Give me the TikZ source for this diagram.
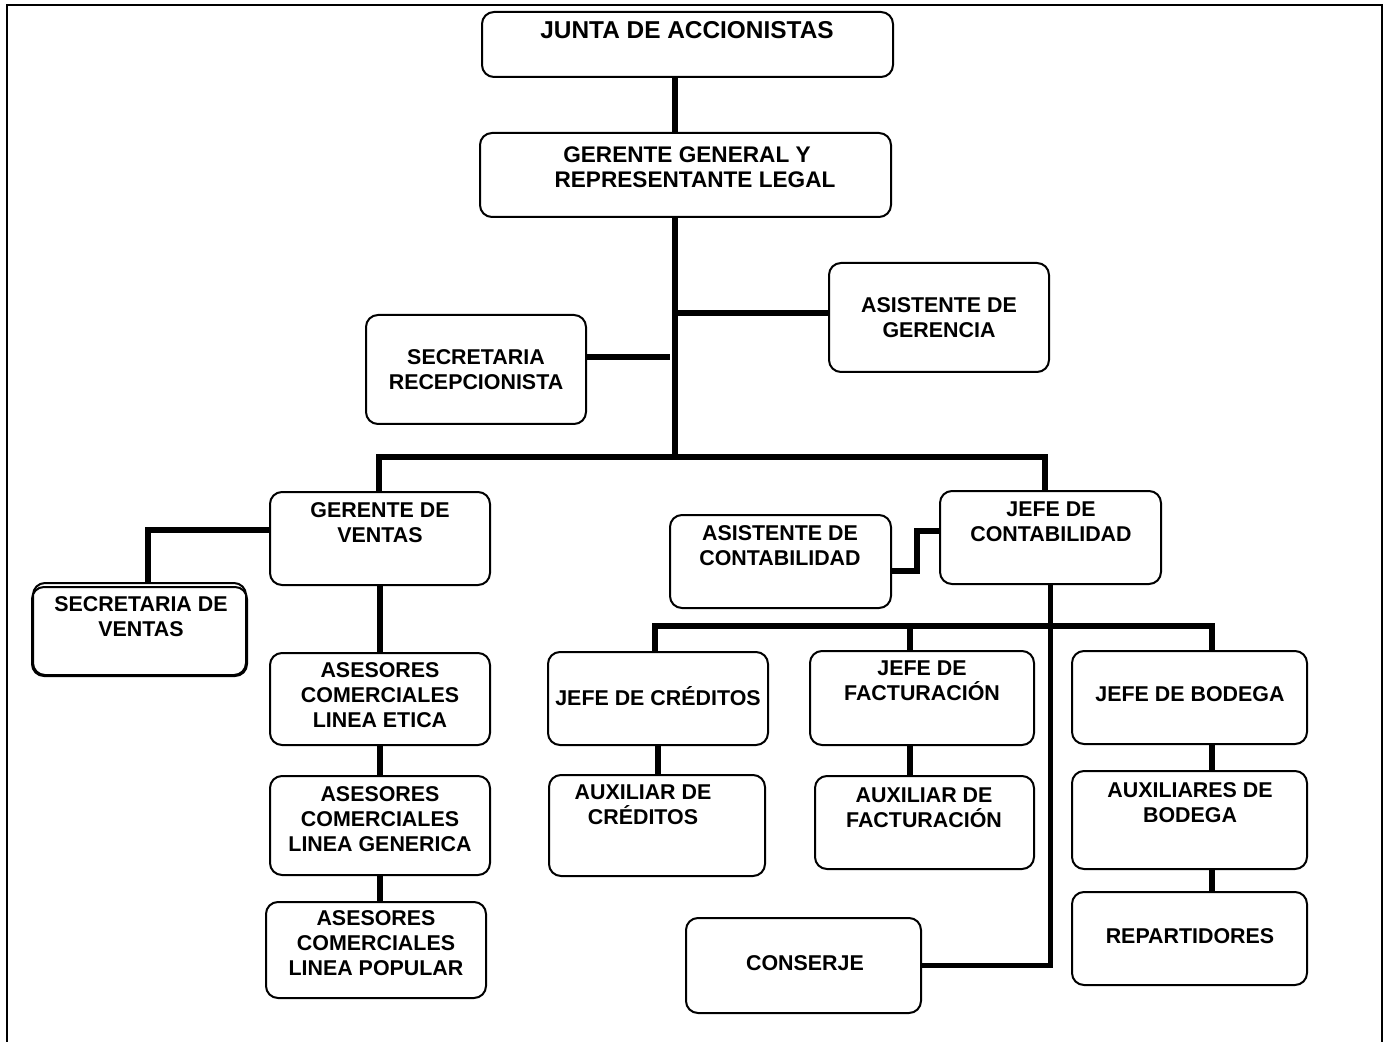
\documentclass[tikz,border=0pt]{standalone}
\usepackage{fontspec}
\setmainfont{Liberation Sans}
\usepackage{tikz}
\usetikzlibrary{positioning,fit}

\begin{document}
\begin{tikzpicture}[x=0.5pt,y=-0.5pt,
  orgbox/.style={draw,line width=1pt,rounded corners=6pt,inner sep=0pt},
  orgtxt/.style={font=\bfseries\fontsize{10.7}{12.6}\selectfont,align=center,anchor=north,inner sep=0pt},
  toptxt/.style={orgtxt,font=\bfseries\fontsize{12.2}{12.6}\selectfont},
  midtxt/.style={orgtxt,font=\bfseries\fontsize{11.3}{12.6}\selectfont},
  link/.style={line width=2.7pt}]
  \useasboundingbox (0,0) rectangle (1390,1042);
  \draw[line width=1.3pt] (7,1042) |- (1382,5) -- (1382,1042);
  % boxes
  \node[orgbox,fit={(482,12) (893,77)}] (junta) {};
  \node[orgbox,fit={(480,133) (891,217)}] (gerG) {};
  \node[orgbox,fit={(829,263) (1049,372)}] (asisG) {};
  \node[orgbox,fit={(366,315) (586,424)}] (secR) {};
  \node[orgbox,fit={(270,492) (490,585)}] (gerV) {};
  \node[orgbox,fit={(33,583) (246,675)}] (secVb) {};
  \node[orgbox,fit={(32,587) (247,676)}] (secV) {};
  \node[orgbox,fit={(270,653) (490,745)}] (aseE) {};
  \node[orgbox,fit={(270,776) (490,875)}] (aseG) {};
  \node[orgbox,fit={(266,902) (486,998)}] (aseP) {};
  \node[orgbox,fit={(670,515) (891,608)}] (asisC) {};
  \node[orgbox,fit={(940,491) (1161,584)}] (jefC) {};
  \node[orgbox,fit={(548,652) (768,745)}] (jCred) {};
  \node[orgbox,fit={(810,651) (1034,745)}] (jFac) {};
  \node[orgbox,fit={(1072,651) (1307,744)}] (jBod) {};
  \node[orgbox,fit={(549,775) (765,876)}] (auxC) {};
  \node[orgbox,fit={(815,776) (1034,869)}] (auxF) {};
  \node[orgbox,fit={(1072,771) (1307,869)}] (auxB) {};
  \node[orgbox,fit={(1072,892) (1307,985)}] (rep) {};
  \node[orgbox,fit={(686,918) (921,1013)}] (cons) {};
  % texts
  \node[toptxt] (juntaT) at (687,21) {JUNTA DE ACCIONISTAS};
  \node[midtxt] (gerGT) at (695,146) {GERENTE GENERAL Y\kern8pt\\REPRESENTANTE LEGAL};
  \node[orgtxt] (asisGT) at (939,297) {ASISTENTE DE\\GERENCIA};
  \node[orgtxt] (secRT) at (476,349) {SECRETARIA\\RECEPCIONISTA};
  \node[orgtxt] (gerVT) at (380,502) {GERENTE DE\\VENTAS};
  \node[orgtxt] (secVT) at (141,596) {SECRETARIA DE\\VENTAS};
  \node[orgtxt] (aseET) at (380,662) {ASESORES\\COMERCIALES\\LINEA ETICA};
  \node[orgtxt] (aseGT) at (380,786) {ASESORES\\COMERCIALES\\LINEA GENERICA};
  \node[orgtxt] (asePT) at (376,910) {ASESORES\\COMERCIALES\\LINEA POPULAR};
  \node[orgtxt] (asisCT) at (780,525) {ASISTENTE DE\\CONTABILIDAD};
  \node[orgtxt] (jefCT) at (1051,501) {JEFE DE\\CONTABILIDAD};
  \node[orgtxt] (jCredT) at (658,686) {JEFE DE CRÉDITOS};
  \node[orgtxt] (jFacT) at (922,660) {JEFE DE\\FACTURACIÓN};
  \node[orgtxt] (jBodT) at (1190,686) {JEFE DE BODEGA};
  \node[orgtxt] (auxCT) at (643,784) {AUXILIAR DE\\CRÉDITOS};
  \node[orgtxt] (auxFT) at (924,787) {AUXILIAR DE\\FACTURACIÓN};
  \node[orgtxt] (auxBT) at (1190,782) {AUXILIARES DE\\BODEGA};
  \node[orgtxt] (repT) at (1190,928) {REPARTIDORES};
  \node[orgtxt] (consT) at (805,955) {CONSERJE};
  % connectors
  \coordinate (busA) at (675,457);
  \coordinate (jR) at (670,357);
  \coordinate (jA) at (675,313);
  \coordinate (kV) at (148,530);
  \coordinate (kC1) at (917,571);
  \coordinate (kC2) at (917,531);
  \coordinate (b1) at (655,626);
  \coordinate (b2) at (910,626);
  \coordinate (b3) at (1212,626);
  \draw[link] (junta.south -| busA) -- (gerG.north -| busA);
  \draw[link] (gerG.south -| busA) -- (busA);
  \draw[link] (jA) -- (asisG.west |- jA);
  \draw[link] (secR.east |- jR) -- (jR);
  \draw[link] (gerV.north -| 379,0) |- (busA) -| (jefC.north -| 1045,0);
  \draw[link] (gerV.west |- kV) -| (secVb.north -| kV);
  \draw[link] (gerV.south) -- (aseE.north);
  \draw[link] (aseE.south) -- (aseG.north);
  \draw[link] (aseG.south) -- (aseG.south |- aseP.north);
  \draw[link] (asisC.east |- kC1) -- (kC1) -- (kC2) -- (jefC.west |- kC2);
  \draw[link] (jefC.south) |- (cons.east);
  \draw[link] (jCred.north -| b1) -- (b1) -- (b3) -- (jBod.north -| b3);
  \draw[link] (b2) -- (jFac.north -| b2);
  \draw[link] (jCred.south) -- (jCred.south |- auxC.north);
  \draw[link] (jFac.south -| b2) -- (auxF.north -| b2);
  \draw[link] (jBod.south -| b3) -- (auxB.north -| b3);
  \draw[link] (auxB.south -| b3) -- (rep.north -| b3);
\end{tikzpicture}
\end{document}
